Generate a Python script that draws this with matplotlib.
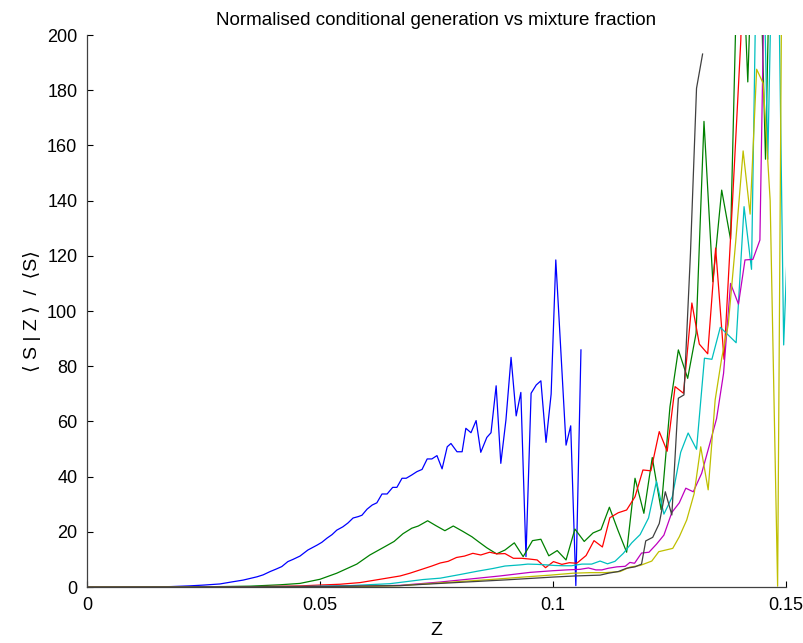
import matplotlib

matplotlib.use("Agg")
import matplotlib.pyplot as plt

# ---- data (Z, <S|Z>/<S>) ----
blue_z = [0.0, 0.010, 0.015, 0.018, 0.0219, 0.0251, 0.0285, 0.0313, 0.0335, 0.0365,
          0.0378, 0.0393, 0.0406, 0.0418, 0.0431, 0.0442, 0.0457, 0.0474, 0.0494, 0.0504,
          0.0515, 0.0526, 0.0536, 0.0549, 0.0560, 0.0571, 0.0582, 0.0590, 0.0601, 0.0612,
          0.0622, 0.0633, 0.0644, 0.0656, 0.0665, 0.0676, 0.0685, 0.0697, 0.0708, 0.0719,
          0.0730, 0.0740, 0.0751, 0.0762, 0.0773, 0.0781, 0.0794, 0.0805, 0.0813, 0.0824,
          0.0835, 0.0845, 0.0858, 0.0867, 0.0878, 0.0888, 0.0899, 0.0910, 0.0921, 0.0931,
          0.0942, 0.0953, 0.0964, 0.0974, 0.0985, 0.0996, 0.1006, 0.1017, 0.1028, 0.1038,
          0.1049, 0.1060]
blue_v = [0.0, 0.0, 0.05, 0.15, 0.4, 0.7, 1.1, 1.9, 2.5, 3.7,
          4.4, 5.6, 6.5, 7.4, 9.2, 10.0, 11.2, 13.4, 15.2, 16.2,
          17.7, 19.0, 20.6, 21.8, 23.2, 25.0, 25.5, 26.0, 28.2, 29.7,
          30.5, 33.7, 33.7, 36.1, 36.1, 39.4, 39.4, 40.6, 41.8, 42.6,
          46.4, 46.4, 47.6, 42.8, 50.8, 52.0, 49.0, 49.0, 57.5, 55.9,
          60.3, 48.8, 54.2, 55.9, 72.9, 44.8, 60.5, 83.2, 62.0, 70.5,
          11.0, 70.2, 73.2, 74.7, 52.4, 69.9, 118.5, 85.0, 51.4, 58.4,
          0.5, 85.9]

green_z = [0.0, 0.0242, 0.0350, 0.0414, 0.0457, 0.0500, 0.0536, 0.0579, 0.0607, 0.0639,
           0.0659, 0.0678, 0.0697, 0.0711, 0.0731, 0.0749, 0.0768, 0.0786, 0.0806, 0.0826,
           0.0841, 0.0858, 0.0879, 0.0897, 0.0917, 0.0936, 0.0956, 0.0974, 0.0991, 0.1009,
           0.1028, 0.1047, 0.1067, 0.1086, 0.1103, 0.1121, 0.1139, 0.1158, 0.1176, 0.1195,
           0.1213, 0.1232, 0.1251, 0.1269, 0.1289, 0.1307, 0.1324, 0.1343, 0.1362, 0.1381,
           0.1400, 0.1418, 0.1437, 0.1456, 0.1474, 0.1494, 0.1512]
green_v = [0.0, 0.05, 0.3, 0.8, 1.3, 2.8, 5.0, 8.3, 11.6, 14.6,
           16.5, 19.3, 21.3, 22.1, 24.0, 22.2, 20.4, 22.1, 20.2, 18.2,
           16.3, 14.2, 12.0, 13.4, 16.0, 11.0, 16.8, 17.3, 11.3, 13.2,
           9.8, 21.0, 16.5, 19.6, 20.8, 28.9, 20.7, 12.6, 39.4, 26.7,
           46.9, 28.0, 65.3, 85.9, 75.6, 91.9, 168.7, 110.6, 143.8, 126.0,
           260, 183, 280, 155, 300, 300, 300]

red_z = [0.0, 0.0350, 0.0457, 0.0543, 0.0586, 0.0629, 0.0672, 0.0693, 0.0722, 0.0740,
         0.0758, 0.0775, 0.0793, 0.0810, 0.0828, 0.0845, 0.0864, 0.0880, 0.0897, 0.0915,
         0.0933, 0.0951, 0.0966, 0.0984, 0.1001, 0.1019, 0.1035, 0.1051, 0.1071, 0.1088,
         0.1106, 0.1122, 0.1140, 0.1158, 0.1176, 0.1193, 0.1210, 0.1228, 0.1245, 0.1262,
         0.1280, 0.1298, 0.1314, 0.1332, 0.1349, 0.1367, 0.1385, 0.1403, 0.1422, 0.1440,
         0.1458, 0.1476, 0.1495, 0.1513]
red_v = [0.0, 0.1, 0.4, 1.0, 1.6, 2.8, 4.0, 5.0, 6.6, 7.6,
         8.7, 9.3, 10.7, 11.2, 12.2, 11.6, 12.6, 12.0, 12.1, 10.4,
         10.4, 10.1, 9.8, 7.0, 9.2, 8.2, 8.8, 8.6, 11.4, 16.8,
         14.5, 25.1, 26.9, 27.9, 32.7, 42.4, 42.1, 56.3, 49.2, 72.6,
         70.2, 102.9, 88.0, 84.5, 122.8, 82.5, 139, 198, 320, 300,
         300, 300, 300, 300]

cyan_z = [0.0, 0.0457, 0.0564, 0.0650, 0.0721, 0.0758, 0.0800, 0.0837, 0.0871, 0.0897,
          0.0929, 0.0946, 0.0966, 0.0987, 0.1004, 0.1022, 0.1040, 0.1062, 0.1083, 0.1101,
          0.1117, 0.1133, 0.1151, 0.1169, 0.1187, 0.1205, 0.1222, 0.1238, 0.1256, 0.1274,
          0.1290, 0.1308, 0.1325, 0.1341, 0.1359, 0.1376, 0.1393, 0.1410, 0.1426, 0.1443,
          0.1461, 0.1478, 0.1495, 0.1511]
cyan_v = [0.0, 0.2, 0.5, 1.2, 2.7, 3.2, 4.5, 5.7, 6.7, 7.6,
          8.0, 8.3, 8.2, 8.0, 7.8, 7.7, 7.7, 8.3, 8.3, 9.4,
          8.4, 9.3, 12.2, 16.0, 19.0, 25.0, 38.3, 26.4, 32.7, 48.8,
          55.8, 49.9, 82.9, 82.5, 94.1, 91.3, 88.5, 137.8, 115.1, 300,
          155, 300, 87.7, 160]

magenta_z = [0.0, 0.0564, 0.0672, 0.0758, 0.0828, 0.0886, 0.0951, 0.1000, 0.1030, 0.1058,
             0.1076, 0.1092, 0.1105, 0.1119, 0.1137, 0.1155, 0.1165, 0.1175, 0.1190, 0.1206,
             0.1222, 0.1238, 0.1255, 0.1271, 0.1285, 0.1301, 0.1319, 0.1335, 0.1351, 0.1366,
             0.1381, 0.1398, 0.1412, 0.1429, 0.1444, 0.1461, 0.1477, 0.1494, 0.1510]
magenta_v = [0.0, 0.2, 0.6, 1.8, 3.0, 4.0, 5.3, 5.9, 6.2, 6.4,
             6.9, 6.2, 6.2, 6.8, 7.3, 7.5, 8.9, 8.6, 12.3, 12.6,
             15.5, 18.8, 27.0, 30.5, 35.8, 34.5, 41.2, 51.0, 61.0, 77.4,
             110.0, 102.5, 118.5, 118.7, 125.7, 300, 320, 330, 340]

yellow_z = [0.0, 0.0564, 0.0672, 0.0758, 0.0865, 0.0936, 0.0994, 0.1043, 0.1079, 0.1112,
            0.1144, 0.1165, 0.1187, 0.1212, 0.1227, 0.1257, 0.1271, 0.1287, 0.1303, 0.1317,
            0.1333, 0.1348, 0.1362, 0.1376, 0.1392, 0.1408, 0.1423, 0.1437, 0.1451, 0.1466,
            0.1482, 0.1496]
yellow_v = [0.0, 0.1, 0.5, 1.5, 2.7, 3.6, 4.3, 5.0, 5.2, 5.2,
            5.6, 7.2, 7.8, 9.4, 12.8, 14.0, 18.2, 24.3, 33.9, 50.8,
            35.2, 67.8, 82.9, 94.9, 125, 158, 135.1, 187.6, 182.5, 140,
            0.3, 350]

black_z = [0.0, 0.0457, 0.0672, 0.0758, 0.0901, 0.1000, 0.1047, 0.1101, 0.1119, 0.1140,
           0.1158, 0.1176, 0.1190, 0.1199, 0.1214, 0.1228, 0.1241, 0.1255, 0.1269, 0.1281,
           0.1295, 0.1308, 0.1321]
black_v = [0.0, 0.1, 0.5, 1.3, 2.6, 3.6, 4.0, 4.3, 5.0, 5.6,
           6.8, 7.3, 8.3, 16.7, 18.0, 23.0, 34.5, 26.1, 68.4, 69.6,
           121, 180.7, 193.1]

x_ticks = [0, 0.05, 0.1, 0.15]
x_tick_labels = ["0", "0.05", "0.1", "0.15"]
y_ticks = [0, 20, 40, 60, 80, 100, 120, 140, 160, 180, 200]

# MATLAB's old default colour order
series = [
    (blue_z, blue_v, (0.0, 0.0, 1.0)),
    (green_z, green_v, (0.0, 0.5, 0.0)),
    (red_z, red_v, (1.0, 0.0, 0.0)),
    (cyan_z, cyan_v, (0.0, 0.75, 0.75)),
    (magenta_z, magenta_v, (0.75, 0.0, 0.75)),
    (yellow_z, yellow_v, (0.75, 0.75, 0.0)),
    (black_z, black_v, (0.25, 0.25, 0.25)),
]

plt.rcParams["font.family"] = ["Liberation Sans Narrow", "Liberation Sans", "DejaVu Sans"]

fig = plt.figure(figsize=(8.04, 6.43), dpi=100)
ax = fig.add_axes([87 / 804, 56 / 643, 699 / 804, 552 / 643])

for z, v, c in series:
    ax.plot(z, v, "-", color=c, lw=0.9)

ax.set_xlim(0, 0.15)
ax.set_ylim(0, 200)
ax.set_xticks(x_ticks)
ax.set_xticklabels(x_tick_labels)
ax.set_yticks(y_ticks)
ax.tick_params(direction="in", length=4, width=0.8, labelsize=13, pad=7)

for side in ("top", "right"):
    ax.spines[side].set_visible(False)
for side in ("left", "bottom"):
    ax.spines[side].set_color("#404040")
    ax.spines[side].set_linewidth(0.9)

ax.set_xlabel("Z", fontsize=14, labelpad=6)
ax.set_ylabel("\u27e8 S | Z \u27e9  /  \u27e8S\u27e9", fontsize=14, labelpad=4)
ax.set_title("Normalised conditional generation vs mixture fraction", fontsize=13.5, pad=7)

fig.savefig("out.png", dpi=100)
plt.close(fig)
